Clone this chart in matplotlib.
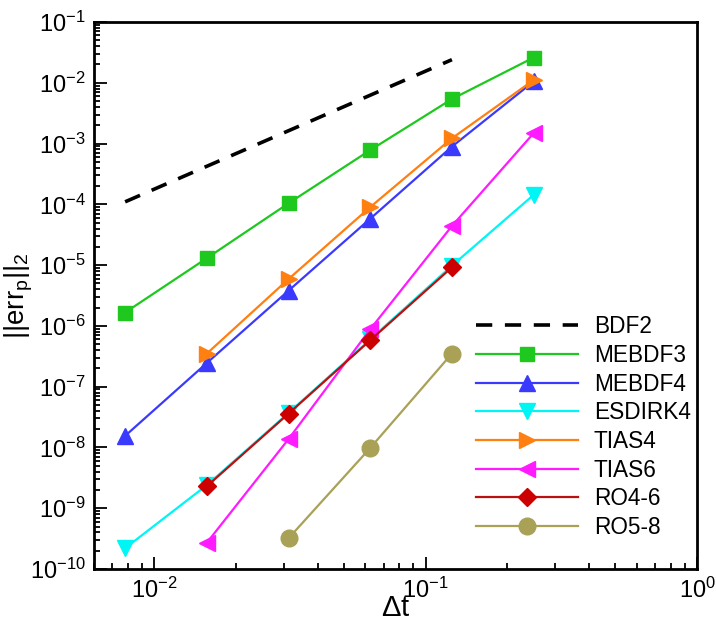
import matplotlib
matplotlib.use("Agg")
import matplotlib.pyplot as plt
from matplotlib import ticker

plt.rcParams['font.family'] = ['Liberation Sans', 'DejaVu Sans']
plt.rcParams['mathtext.fontset'] = 'custom'
plt.rcParams['mathtext.rm'] = 'Liberation Sans'
plt.rcParams['mathtext.it'] = 'Liberation Sans:italic'
plt.rcParams['mathtext.default'] = 'regular'

# time step sizes
dt = [1/128, 1/64, 1/32, 1/16, 1/8, 1/4]

# reference slope line
bdf2_dt = [1/128, 1/8]
bdf2_err = [1.1e-4, 2.4e-2]

mebdf3 = [1.66e-6, 1.3e-5, 1.04e-4, 7.8e-4, 5.4e-3, 2.6e-2]
mebdf4 = [1.55e-8, 2.45e-7, 3.8e-6, 5.8e-5, 8.9e-4, 1.05e-2]
esdirk4 = [2.2e-10, 2.4e-9, 3.7e-8, 6.0e-7, 9.8e-6, 1.43e-4]
tias4_dt = dt[1:]
tias4 = [3.5e-7, 5.9e-6, 9.0e-5, 1.22e-3, 1.11e-2]
tias6_dt = dt[1:]
tias6 = [2.7e-10, 1.37e-8, 8.8e-7, 4.4e-5, 1.48e-3]
ro46_dt = dt[1:5]
ro46 = [2.3e-9, 3.6e-8, 5.8e-7, 9.2e-6]
ro58_dt = dt[2:5]
ro58 = [3.2e-10, 9.8e-9, 3.5e-7]

fig = plt.figure(figsize=(7.16, 6.25), dpi=100)
ax = fig.add_axes([0.1313, 0.0896, 0.8422, 0.8752])

lw = 1.6
ax.plot(bdf2_dt, bdf2_err, color='black', ls=(0, (4.5, 3.5)), lw=2.6, label='BDF2')
ax.plot(dt, mebdf3, color='#1ec81e', lw=lw, marker='s', ms=10, mec='#1ec81e', label='MEBDF3')
ax.plot(dt, mebdf4, color='#3a3aff', lw=lw, marker='^', ms=11, mec='#3a3aff', label='MEBDF4')
ax.plot(dt, esdirk4, color='#00f5f5', lw=lw, marker='v', ms=11, mec='#00f5f5', label='ESDIRK4')
ax.plot(tias4_dt, tias4, color='#ff7f10', lw=lw, marker='>', ms=11, mec='#ff7f10', label='TIAS4')
ax.plot(tias6_dt, tias6, color='#ff1aff', lw=lw, marker='<', ms=11, mec='#ff1aff', label='TIAS6')
ax.plot(ro46_dt, ro46, color='#bb1010', lw=lw, marker='D', ms=9, mfc='#cc0000', mec='#cc0000', label='RO4-6')
ax.plot(ro58_dt, ro58, color='#a9a156', lw=lw, marker='o', ms=12, mec='#a9a156', label='RO5-8')

ax.set_xscale('log')
ax.set_yscale('log')
ax.set_xlim(0.006, 1)
ax.set_ylim(1e-10, 1e-1)

for s in ax.spines.values():
    s.set_linewidth(2)
ax.yaxis.set_major_locator(ticker.LogLocator(base=10, numticks=20))
ax.yaxis.set_minor_locator(ticker.LogLocator(base=10, subs=range(2, 10), numticks=20))
ax.yaxis.set_minor_formatter(ticker.NullFormatter())
ax.xaxis.set_minor_formatter(ticker.NullFormatter())
ax.tick_params(which='both', direction='in', top=False, right=False,
               labelsize=17, width=1.3)
ax.tick_params(which='major', length=9, pad=6)
ax.tick_params(which='minor', length=4.5)

ax.set_xlabel(r'$\Delta$t', fontsize=21, labelpad=-6)
ax.set_ylabel(r'||err$_{\rm p}$||$_{\rm 2}$', fontsize=20, labelpad=-4)

leg = ax.legend(loc='lower right', bbox_to_anchor=(1.012, 0.03), frameon=False, fontsize=16.3,
                handlelength=4.5, handletextpad=0.7, labelspacing=0.25, borderaxespad=0.2)

fig.savefig('out.png', dpi=100)
